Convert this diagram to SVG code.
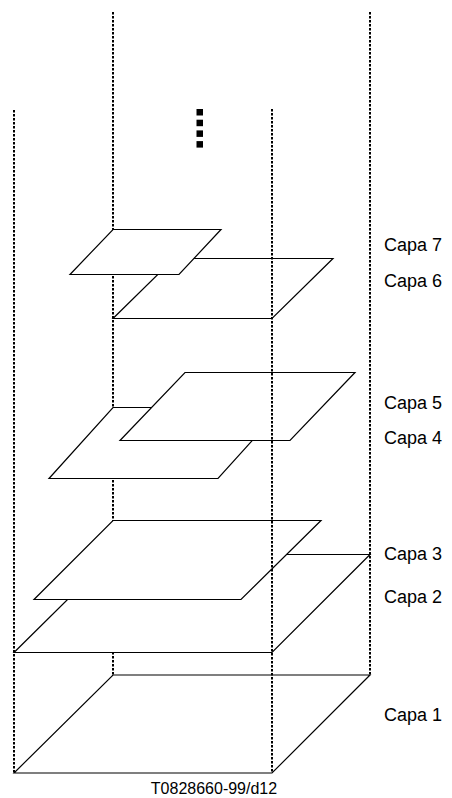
<svg xmlns="http://www.w3.org/2000/svg" width="452" height="798" viewBox="0 0 452 798">
<style>
.plane{fill:#fff;stroke:#000;stroke-width:1.2;stroke-linejoin:miter}
.dot{stroke:#000;stroke-width:2;stroke-dasharray:2.5 1.5;fill:none}
.lbl{font-family:"Liberation Sans",Arial,sans-serif;font-size:18px;fill:#000}
.code{font-family:"Liberation Sans",Arial,sans-serif;font-size:16px;fill:#000;text-anchor:middle}
</style>
<rect width="452" height="798" fill="#fff"/>
<g id="back-lines">
<line class="dot" x1="113" y1="12" x2="113" y2="675"/>
<line class="dot" x1="370" y1="12" x2="370" y2="675"/>
</g>
<g id="capa1"><polygon class="plane" points="113,675 370,675 272,773 14,773"/></g>
<g id="capa2"><polygon class="plane" points="113,554.5 370,554.5 272,652.5 14,652.5"/></g>
<g id="capa3"><polygon class="plane" points="113,520.5 321,520.5 241,599.5 34,599.5"/></g>
<g id="capa4"><polygon class="plane" points="113,407.5 282,407.5 218,478.5 49,478.5"/></g>
<g id="capa5"><polygon class="plane" points="185,372.5 355,372.5 290,440.5 120,440.5"/></g>
<g id="capa6"><polygon class="plane" points="174,258.5 333,258.5 272,318.5 113,318.5"/></g>
<g id="capa7"><polygon class="plane" points="113,229.5 221,229.5 179,274.5 70,274.5"/></g>
<g id="front-lines">
<line class="dot" x1="14" y1="110" x2="14" y2="773"/>
<line class="dot" x1="272" y1="109" x2="272" y2="773"/>
</g>
<g id="ellipsis">
<rect x="196.5" y="109" width="6.5" height="6.5"/>
<rect x="196.5" y="119.7" width="6.5" height="6.5"/>
<rect x="196.5" y="130.4" width="6.5" height="6.5"/>
<rect x="196.5" y="141.1" width="6.5" height="6.5"/>
</g>
<g id="labels">
<text class="lbl" x="384" y="251">Capa 7</text>
<text class="lbl" x="384" y="287">Capa 6</text>
<text class="lbl" x="384" y="409">Capa 5</text>
<text class="lbl" x="384" y="444">Capa 4</text>
<text class="lbl" x="384" y="560">Capa 3</text>
<text class="lbl" x="384" y="603">Capa 2</text>
<text class="lbl" x="384" y="721">Capa 1</text>
<text class="code" x="214" y="794">T0828660-99/d12</text>
</g>
</svg>
